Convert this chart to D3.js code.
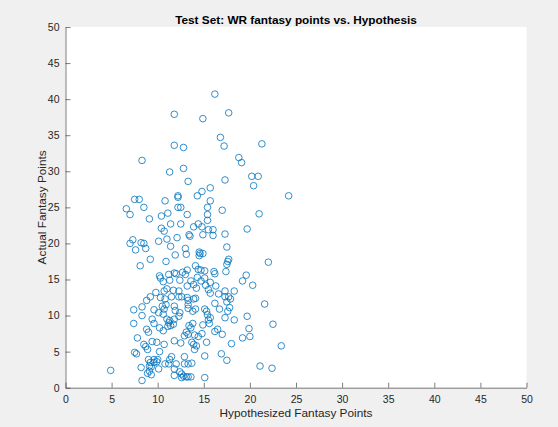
<!DOCTYPE html>
<html>
<head>
<meta charset="utf-8">
<script src="https://cdn.jsdelivr.net/npm/d3@7"></script>
<style>
  body { margin: 0; background: #f0f0f0; }
  text { font-family: "Liberation Sans", Arial, sans-serif; fill: #262626; }
</style>
</head>
<body>
<div id="chart"></div>
<script>
// Hypothesized (x) and actual (y) fantasy points
var hypothesized = [
  16.2, 11.8, 17.7, 14.9, 16.8, 17.2, 11.8, 12.8, 21.3, 18.8, 19.1, 8.3, 12.8, 11.3,
  13.3, 17.3, 20.2, 20.9, 20.4, 14.8, 15.7, 14.3, 12.2, 12.2, 24.2, 7.5, 8.0, 10.8, 15.7, 6.6, 8.5, 12.2, 12.5, 15.4, 17.0,
  7.0, 9.1, 10.4, 11.1, 13.2, 15.4, 15.4, 21.0, 12.5, 11.4, 13.9, 14.4, 14.8, 10.4, 10.7, 13.4, 13.5, 12.1, 11.0, 14.9, 15.5, 16.0, 16.0, 17.3, 19.7, 7.0, 7.3, 8.2, 8.5, 10.1, 11.4, 17.5,
  7.6, 8.7, 13.0, 14.5, 14.6, 14.9, 13.1, 11.9, 14.5, 9.2, 10.9, 17.7, 17.6, 17.5, 22.0, 8.1, 14.1, 14.4, 14.7, 15.1, 16.1, 16.2, 17.4, 13.2, 12.7, 12.0, 13.0, 10.2, 10.3, 11.2, 11.8, 19.6, 19.2, 15.1, 14.3, 10.6, 11.3, 12.4, 13.6, 14.7, 15.7,
  13.9, 15.2, 16.3, 20.3, 13.2, 11.0, 10.7, 14.2, 11.7, 12.3, 15.5, 15.7, 18.3, 17.3, 9.8, 16.6, 9.2, 10.3, 11.5, 12.3, 12.6, 13.2, 17.3, 17.7, 17.9, 13.9, 14.1, 8.8, 10.8, 13.3, 16.2, 17.5, 21.6, 10.9, 13.3, 13.3,
  8.3, 7.4, 9.6, 10.1, 10.5, 10.7, 11.8, 11.9, 12.4, 13.8, 14.1, 15.1, 15.3, 15.4, 16.7, 17.6, 17.8, 8.3, 9.4, 10.6, 11.0, 11.3, 11.2, 11.8, 12.3, 15.7, 15.5, 15.6, 17.3, 18.3, 19.7, 9.6, 7.4, 11.1, 11.7, 13.4, 13.6, 13.8, 14.9, 22.5, 10.2, 10.6, 16.5, 16.2, 19.9, 8.8, 9.0, 11.4, 13.1,
  13.3, 14.8, 17.0, 14.4, 14.0, 12.9, 7.8, 19.2, 20.0, 11.8, 9.4, 9.9, 12.5, 13.7, 15.3, 8.5, 8.7, 10.7, 13.9, 14.2, 18.0, 23.4, 8.9, 14.0, 10.2, 7.5, 7.7, 16.9, 15.1, 12.9, 11.5,
  9.0, 9.2, 9.6, 10.0, 9.9, 9.6, 11.3, 17.5, 9.1, 9.3, 10.8, 11.2, 12.0, 12.9, 13.3, 13.7, 10.1, 21.1, 8.2, 22.4, 4.9, 8.9, 9.1, 9.3, 12.4, 12.6, 12.6, 12.8, 11.8, 11.8, 13.1, 13.3, 13.6, 15.1, 8.3
];
var actual = [
  40.7, 37.9, 38.1, 37.3, 34.7, 33.5, 33.6, 33.3, 33.8, 31.9, 31.2, 31.5, 30.4, 29.9,
  28.6, 28.8, 29.3, 29.3, 28.0, 27.2, 27.7, 26.6, 26.6, 26.4, 26.6, 26.1, 26.1, 25.9, 25.9, 24.8, 25.0, 25.0, 25.0, 25.0, 24.6,
  24.0, 23.4, 23.8, 24.2, 24.0, 24.0, 23.2, 24.1, 22.7, 22.7, 22.3, 22.7, 22.3, 22.1, 21.7, 21.2, 21.0, 20.8, 20.6, 21.2, 21.9, 21.9, 21.1, 21.3, 22.0, 20.0, 20.5, 20.1, 20.0, 20.3, 19.6, 19.5,
  19.1, 19.3, 19.3, 18.8, 18.6, 18.6, 18.5, 18.4, 18.3, 17.8, 17.5, 17.8, 17.5, 17.1, 17.4, 16.9, 16.9, 16.4, 16.3, 16.2, 16.1, 15.8, 16.1, 16.3, 16.0, 15.8, 15.7, 15.5, 15.2, 15.7, 15.9, 15.6, 14.8, 15.2, 15.3, 14.7, 14.9, 14.9, 14.8, 14.8, 14.6,
  14.3, 14.2, 14.1, 14.2, 14.1, 13.7, 13.4, 13.8, 13.5, 13.4, 13.6, 13.1, 13.4, 13.4, 13.2, 13.0, 12.6, 12.5, 12.6, 12.6, 12.6, 12.5, 12.6, 12.6, 12.3, 12.3, 12.4, 12.1, 12.3, 12.1, 11.7, 11.9, 11.6, 11.5, 11.5, 11.0,
  11.2, 10.8, 10.8, 10.4, 11.3, 10.9, 11.3, 10.7, 10.4, 10.6, 10.9, 10.9, 10.6, 10.1, 10.9, 10.6, 11.1, 10.0, 9.5, 10.2, 9.5, 9.3, 9.0, 9.5, 9.9, 9.7, 9.4, 8.9, 9.7, 9.4, 9.9, 8.9, 8.9, 8.5, 8.8, 8.6, 8.3, 8.9, 8.7, 8.8, 8.3, 7.9, 8.1, 7.8, 8.2, 8.1, 7.7, 8.6, 7.7,
  7.4, 7.5, 7.4, 7.1, 7.3, 7.2, 6.9, 6.9, 7.1, 6.5, 6.4, 6.3, 6.2, 6.3, 6.3, 6.0, 5.7, 6.0, 6.0, 5.8, 6.1, 5.8, 5.3, 5.3, 5.0, 4.9, 4.7, 4.7, 4.4, 4.3, 4.3,
  3.9, 3.5, 3.9, 3.9, 3.6, 3.5, 3.9, 3.8, 3.0, 2.9, 3.3, 3.3, 3.3, 3.3, 3.3, 3.4, 2.6, 3.0, 2.8, 2.7, 2.4, 2.0, 2.3, 1.8, 2.2, 1.9, 1.4, 1.6, 1.7, 2.6, 1.5, 1.5, 1.5, 1.4, 1.0
];
var xTicks = [0, 5, 10, 15, 20, 25, 30, 35, 40, 45, 50];
var yTicks = [0, 5, 10, 15, 20, 25, 30, 35, 40, 45, 50];

var data = hypothesized.map(function(d, i) { return {x: d, y: actual[i]}; });

// Define dimensions and margins for the graph
var margin = {top: 27, right: 31.5, bottom: 39.3, left: 65.5},
    width = 558 - margin.left - margin.right,
    height = 427 - margin.top - margin.bottom;

var svg = d3.select("#chart").append("svg")
    .attr("width", 558)
    .attr("height", 427)
    .style("display", "block")
  .append("g")
    .attr("transform", "translate(" + margin.left + "," + margin.top + ")");

var x = d3.scaleLinear().domain([0, 50]).range([0, width]);
var y = d3.scaleLinear().domain([0, 50]).range([height, 0]);

// white axes background
svg.append("rect")
    .attr("width", width)
    .attr("height", height)
    .attr("fill", "#ffffff");

// x axis, ticks pointing inward
var gx = svg.append("g")
    .attr("transform", "translate(0," + height + ")")
    .call(d3.axisBottom(x).tickValues(xTicks).tickSizeInner(-5).tickSizeOuter(0).tickPadding(8));

// y axis
var gy = svg.append("g")
    .call(d3.axisLeft(y).tickValues(yTicks).tickSizeInner(-5).tickSizeOuter(0).tickPadding(6));

[gx, gy].forEach(function(g) {
  g.select(".domain").attr("stroke", "#262626").attr("stroke-width", 0.6);
  g.selectAll(".tick line").attr("stroke", "#262626").attr("stroke-width", 0.6);
  g.selectAll(".tick text")
      .style("font-family", "'Liberation Sans', Arial, sans-serif")
      .style("font-size", "10.5px")
      .attr("fill", "#404040");
});

// the scatter markers
svg.selectAll(".dot")
    .data(data)
  .enter().append("circle")
    .attr("class", "dot")
    .attr("cx", function(d) { return x(d.x); })
    .attr("cy", function(d) { return y(d.y); })
    .attr("r", 3.3)
    .attr("fill", "none")
    .attr("stroke", "#0072BD")
    .attr("stroke-width", 0.8);

// title
svg.append("text")
    .attr("x", width / 2)
    .attr("y", -3.5)
    .style("text-anchor", "middle")
    .style("font-size", "11.8px")
    .style("font-weight", "bold")
    .style("fill", "#000")
    .text("Test Set: WR fantasy points vs. Hypothesis");

// x label
svg.append("text")
    .attr("x", width / 2)
    .attr("y", height + 29.5)
    .style("text-anchor", "middle")
    .style("font-size", "11.8px")
    .text("Hypothesized Fantasy Points");

// y label
svg.append("text")
    .attr("transform", "rotate(-90)")
    .attr("x", -height / 2)
    .attr("y", -20)
    .style("text-anchor", "middle")
    .style("font-size", "11.8px")
    .text("Actual Fantasy Points");
</script>
</body>
</html>
